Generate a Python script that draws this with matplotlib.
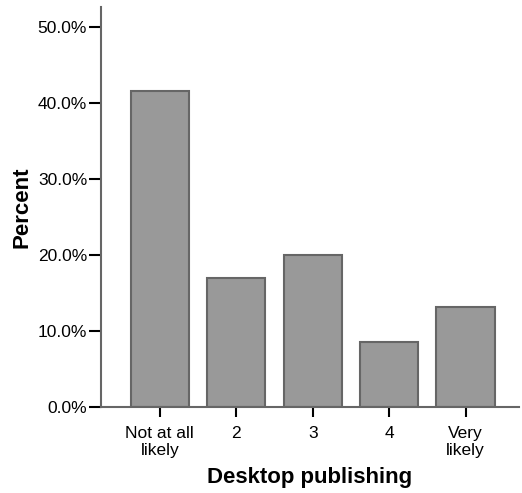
import matplotlib
matplotlib.use("Agg")
import matplotlib.pyplot as plt
import numpy as np

categories = ["Not at all\nlikely", "2", "3", "4", "Very\nlikely"]
percent = [41.6, 17.0, 20.0, 8.5, 13.2]
yticks = [0, 10, 20, 30, 40, 50]

plt.rcParams['font.family'] = ['Liberation Sans', 'DejaVu Sans']

fig = plt.figure(figsize=(5.22, 4.93), dpi=100)
ax = fig.add_axes([101/522, 1-407/493, 418/522, 400/493])

x = np.arange(len(categories))
ax.bar(x, percent, width=0.76, color="#999999", edgecolor="#666666", linewidth=1.5, zorder=2)

ax.set_xlim(-0.77, 4.70)
ax.set_ylim(0, 52.6)
ax.set_yticks(yticks)
ax.set_yticklabels([f"{v:.1f}%" for v in yticks], fontsize=12.5)
ax.set_xticks(x)
ax.set_xticklabels(categories, fontsize=12.5, linespacing=1.15)

for s in ["top", "right"]:
    ax.spines[s].set_visible(False)
for s in ["left", "bottom"]:
    ax.spines[s].set_color("#666666")
    ax.spines[s].set_linewidth(1.5)

ax.tick_params(axis="y", length=9, width=1.5, color="black", pad=1)
ax.tick_params(axis="x", length=7.5, width=1.5, color="black", pad=6)

ax.set_ylabel("Percent", fontsize=16, fontweight="bold", labelpad=4)
ax.set_xlabel("Desktop publishing", fontsize=16, fontweight="bold", labelpad=7)

fig.savefig("out.png", dpi=100)
